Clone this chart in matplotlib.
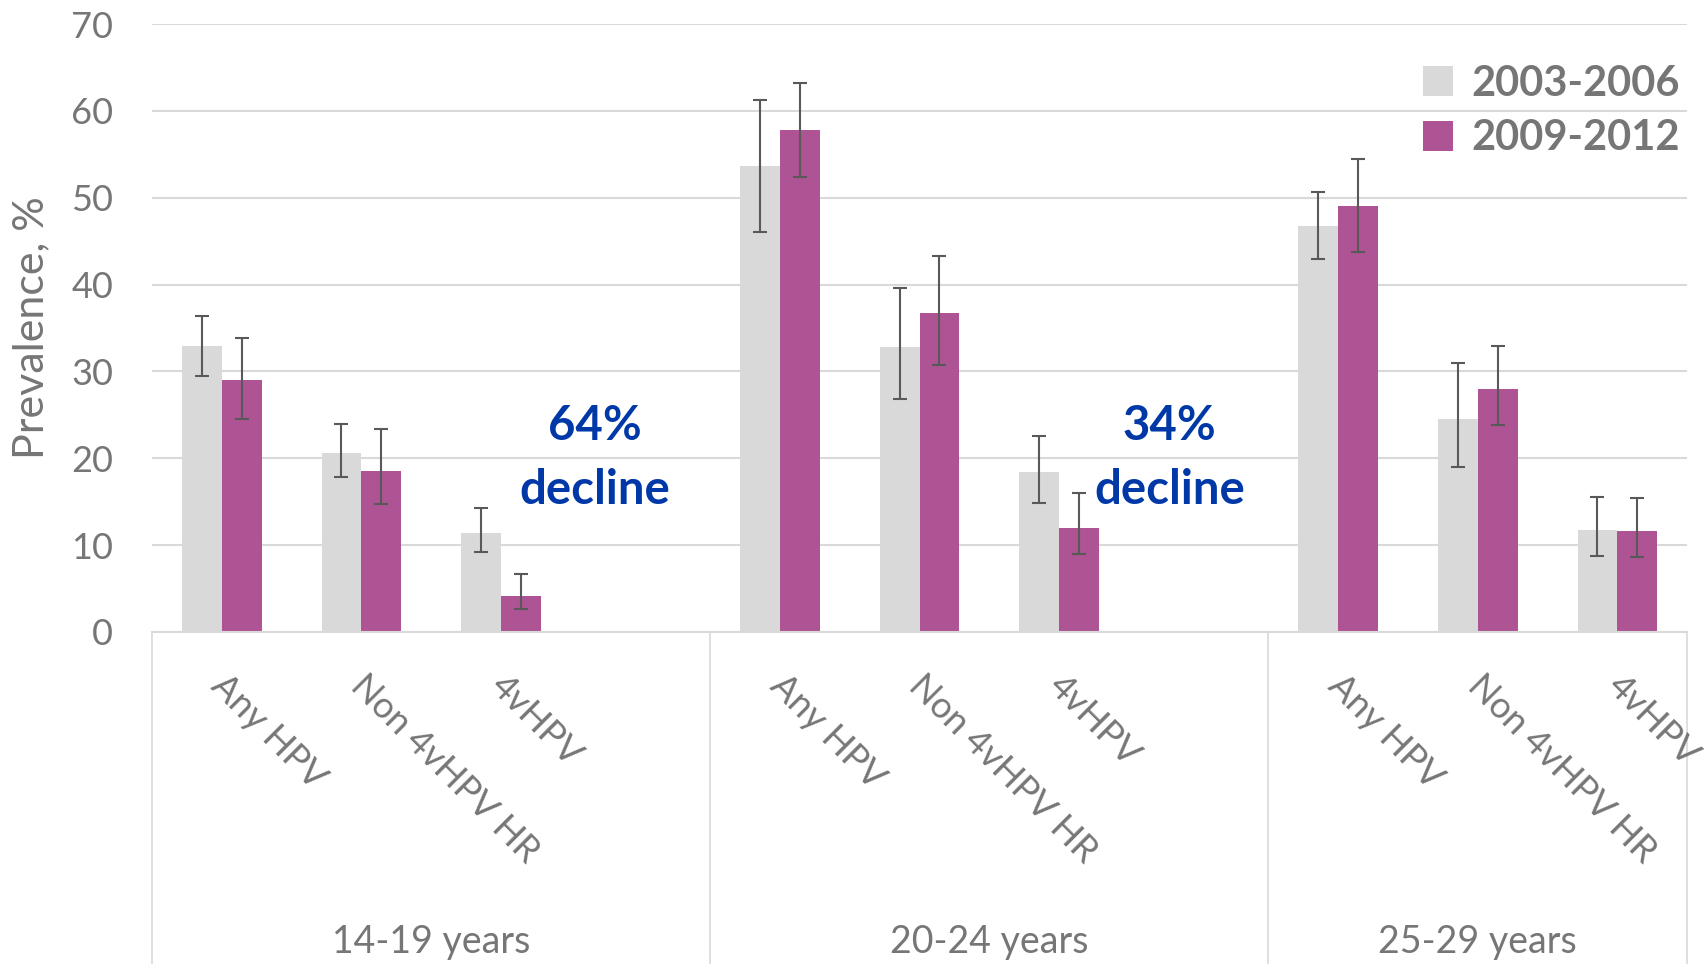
import numpy as np
import matplotlib.pyplot as plt
import matplotlib.transforms as mtransforms

plt.rcParams['font.family'] = ['Lato', 'DejaVu Sans']

# Данные
groups = ['14-19 years', '20-24 years', '25-29 years']
types = ['Any HPV', 'Non 4vHPV HR', '4vHPV']
series = ['2003-2006', '2009-2012']

# по группам: Any HPV, Non 4vHPV HR, 4vHPV
val_0306 = [32.9, 20.6, 11.4, 53.7, 32.8, 18.4, 46.7, 24.5, 11.7]
lo_0306 = [29.5, 17.9, 9.2, 46.0, 26.8, 14.8, 42.9, 19.0, 8.7]
hi_0306 = [36.4, 23.9, 14.3, 61.3, 39.6, 22.6, 50.7, 31.0, 15.5]

val_0912 = [29.0, 18.5, 4.2, 57.8, 36.7, 12.0, 49.1, 28.0, 11.6]
lo_0912 = [24.5, 14.7, 2.7, 52.4, 30.7, 9.0, 43.8, 23.8, 8.6]
hi_0912 = [33.9, 23.4, 6.7, 63.2, 43.3, 16.0, 54.5, 32.9, 15.4]

declines = ['64%\ndecline', '34%\ndecline']

gray = '#d9d9d9'
purple = '#ae5394'
txt = '#767676'

# позиции: 4 слота на группу (последний пустой), всего 11
pos = np.array([g * 4 + i for g in range(3) for i in range(3)], dtype=float)
w = 0.285

fig = plt.figure(figsize=(17.06, 9.64), dpi=100)
ax = fig.add_axes([0.0891, 0.3444, 0.8998, 0.6307])

v1 = np.array(val_0306)
v2 = np.array(val_0912)
err1 = [v1 - np.array(lo_0306), np.array(hi_0306) - v1]
err2 = [v2 - np.array(lo_0912), np.array(hi_0912) - v2]

ax.bar(pos - w / 2, v1, w, color=gray, label=series[0], zorder=2)
ax.bar(pos + w / 2, v2, w, color=purple, label=series[1], zorder=2)
ax.errorbar(pos - w / 2, v1, yerr=err1, fmt='none', ecolor='#595959',
            elinewidth=1.5, capsize=5, capthick=1.5, zorder=3)
ax.errorbar(pos + w / 2, v2, yerr=err2, fmt='none', ecolor='#595959',
            elinewidth=1.5, capsize=5, capthick=1.5, zorder=3)

ax.set_xlim(-0.5, 10.5)
ax.set_ylim(0, 70)
ax.set_yticks(range(0, 71, 10))
ax.tick_params(axis='y', length=0, pad=28, labelsize=26, labelcolor=txt)
ax.set_xticks([])
ax.grid(axis='y', color=gray, linewidth=1.5, zorder=0)
ax.set_axisbelow(True)
for s in ['left', 'right', 'top']:
    ax.spines[s].set_visible(False)
ax.spines['bottom'].set_color(gray)
ax.spines['bottom'].set_linewidth(1.5)

ax.set_ylabel('Prevalence, %', fontsize=31, color=txt)
ax.yaxis.set_label_coords(-0.066, 0.5)

# подписи категорий и групп
trans = mtransforms.blended_transform_factory(ax.transData, ax.transAxes)
for i, p in enumerate(pos):
    ax.text(p + 0.05, -0.06, types[i % 3], transform=trans, rotation=-45,
            rotation_mode='anchor', ha='left', va='top', fontsize=26, color=txt)

bottom = -(964 - 632) / 608
for xs in [-0.5, 3.5, 7.5, 10.5]:
    ax.plot([xs, xs], [0, bottom], transform=trans, color=gray,
            linewidth=1.2, clip_on=False)
for g, xc in zip(groups, [1.5, 5.5, 9.0]):
    ax.text(xc, -0.51, g, transform=trans, ha='center', va='center',
            fontsize=27, color=txt)

# аннотации
for d, xc in zip(declines, [2.67, 6.79]):
    ax.text(xc, 20.0, d, ha='center', va='center', fontsize=34,
            fontweight='bold', color='#0038a8', linespacing=1.55)

leg = ax.legend(loc='upper right', bbox_to_anchor=(1.02, 0.995), frameon=False,
                handlelength=0.72, handleheight=0.72, handletextpad=0.45,
                labelspacing=0.4, prop={'size': 30, 'weight': 'bold'})
for t in leg.get_texts():
    t.set_color(txt)

fig.savefig('out.png', dpi=100)
